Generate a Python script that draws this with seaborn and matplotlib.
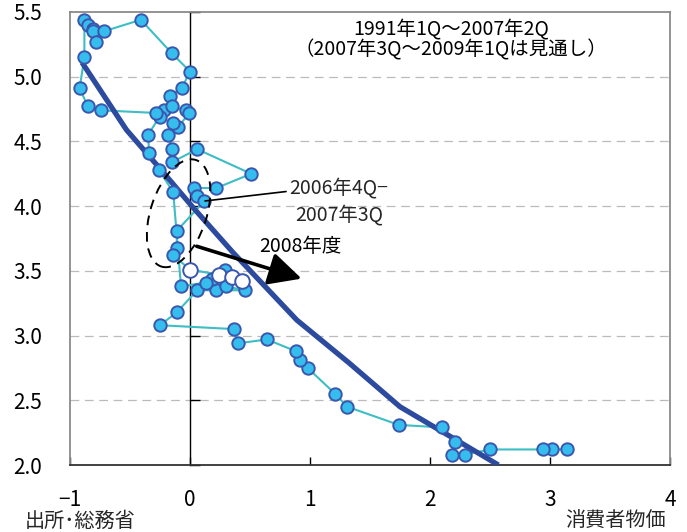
import matplotlib
matplotlib.use("Agg")
import matplotlib.pyplot as plt
import seaborn as sns
import pandas as pd
from matplotlib.patches import Ellipse
from matplotlib.transforms import ScaledTranslation

# ---------------- data ----------------
cpi_actual = [3.14, 3.02, 2.94, 2.50, 2.29, 2.18, 2.21, 2.10, 1.74, 1.31, 1.21, 0.98, 0.92,
              0.88, 0.64, 0.40, 0.37, -0.25, -0.11, 0.06, 0.22, 0.46, 0.30, 0.18, 0.29, 0.13,
              -0.075, -0.14, -0.26, -0.34, -0.35, -0.22, -0.25, -0.28, -0.74, -0.85, -0.92,
              -0.88, -0.88, -0.85, -0.81, -0.81, -0.78, -0.72, -0.41, -0.15, 0.0, -0.07, -0.17,
              -0.15, -0.036, -0.006, -0.10, -0.14, -0.18, -0.15, -0.15, 0.06, 0.51, 0.22, 0.03,
              0.06, 0.12, -0.11, -0.11, -0.14]
unemp_actual = [2.12, 2.12, 2.12, 2.12, 2.08, 2.08, 2.18, 2.29, 2.31, 2.45, 2.55, 2.75, 2.81,
                2.88, 2.97, 2.94, 3.05, 3.08, 3.18, 3.35, 3.35, 3.35, 3.38, 3.44, 3.51, 3.41,
                3.38, 4.11, 4.28, 4.41, 4.55, 4.74, 4.69, 4.72, 4.74, 4.77, 4.91,
                5.15, 5.44, 5.40, 5.37, 5.35, 5.27, 5.35, 5.44, 5.18, 5.04, 4.91, 4.85,
                4.77, 4.74, 4.72, 4.61, 4.64, 4.55, 4.44, 4.34, 4.44, 4.25, 4.14, 4.14,
                4.08, 4.04, 3.81, 3.68, 3.62]
cpi_forecast = [0.0, 0.24, 0.35, 0.43]
unemp_forecast = [3.51, 3.47, 3.45, 3.42]

fit_cpi = [-0.90, -0.53, -0.25, 0.025, 0.36, 0.89, 1.33, 1.75, 2.17, 2.57]
fit_unemp = [5.11, 4.59, 4.29, 3.99, 3.64, 3.12, 2.785, 2.45, 2.22, 2.00]

x_ticks = [-1, 0, 1, 2, 3, 4]
x_ticklabels = ["\u22121", "0", "1", "2", "3", "4"]
y_ticks = [2.0, 2.5, 3.0, 3.5, 4.0, 4.5, 5.0, 5.5]
y_ticklabels = ["2.0", "2.5", "3.0", "3.5", "4.0", "4.5", "5.0", "5.5"]

title_lines = ["1991年1Q～2007年2Q", "（2007年3Q～2009年1Qは見通し）"]
note_range = "2006年4Q−\n2007年3Q"
note_arrow = "2008年度"
source_text = "出所･総務省"
xlabel_text = "消費者物価"

# ---------------- styling ----------------
sns.set_theme(style="white")
plt.rcParams["font.family"] = ["Noto Sans CJK JP", "DejaVu Sans"]

fig = plt.figure(figsize=(6.87, 5.32), dpi=100)
ax = fig.add_axes([70 / 687, 67 / 532, 600 / 687, 453 / 532])

actual = pd.DataFrame({"cpi": cpi_actual, "unemp": unemp_actual})
forecast = pd.DataFrame({"cpi": cpi_forecast, "unemp": unemp_forecast})
fc_path = pd.concat([actual.tail(1), forecast], ignore_index=True)
fit = pd.DataFrame({"cpi": fit_cpi, "unemp": fit_unemp})

path_color = "#3DBDC4"
marker_face = "#35BDEE"
marker_edge = "#3A56AE"

# grid lines
for yv in y_ticks[1:-1]:
    ax.axhline(yv, color="#BBBBBB", lw=0.9, ls=(0, (7, 4.5)), zorder=0)

sns.lineplot(data=actual, x="cpi", y="unemp", sort=False, estimator=None,
             color=path_color, lw=1.5, ax=ax, zorder=2)
sns.lineplot(data=fc_path, x="cpi", y="unemp", sort=False, estimator=None,
             color=path_color, lw=1.5, ax=ax, zorder=2)
sns.lineplot(data=fit, x="cpi", y="unemp", sort=False, estimator=None,
             color="#2C4A9E", lw=3.8, ax=ax, zorder=3, solid_capstyle="butt",
             solid_joinstyle="round")
sns.scatterplot(data=actual, x="cpi", y="unemp", s=80, color=marker_face,
                edgecolor=marker_edge, linewidth=1.4, ax=ax, zorder=4)
sns.scatterplot(data=forecast, x="cpi", y="unemp", s=110, color="white",
                edgecolor=marker_edge, linewidth=1.4, ax=ax, zorder=5)

ax.set_xlim(-1, 4)
ax.set_ylim(2.0, 5.5)
ax.set_xlabel("")
ax.set_ylabel("")

ax.set_xticks(x_ticks)
ax.set_xticklabels(x_ticklabels, fontsize=15)
ax.set_yticks(y_ticks)
ax.set_yticklabels(y_ticklabels, fontsize=15)
ax.tick_params(axis="x", direction="in", length=6, width=1, color="black",
               pad=17, bottom=True, labelcolor="black")
ax.tick_params(axis="y", length=0, pad=20, labelcolor="black")

for side in ["left", "top", "right"]:
    ax.spines[side].set_color("#8A8A8A")
    ax.spines[side].set_linewidth(1.3)
ax.spines["bottom"].set_color("#333333")
ax.spines["bottom"].set_linewidth(1.3)

# vertical axis through x = 0 with inward ticks
sec = ax.secondary_yaxis(0.2)
sec.set_yticks(y_ticks)
sec.tick_params(direction="in", length=7, width=1, color="black", labelleft=False)
sec.spines["left"].set_color("black")
sec.spines["left"].set_linewidth(1.0)

# title text
ax.text(2.175, 5.37, title_lines[0], ha="center", va="center", fontsize=14, color="black")
ax.text(2.175, 5.21, title_lines[1], ha="center", va="center", fontsize=14, color="black")

# dashed ellipse (sized in inches around a data centre)
ell = Ellipse((0, 0), 0.56, 1.12, angle=-18, fill=False, ls=(0, (5, 3.5)), lw=1.4,
              color="black",
              transform=fig.dpi_scale_trans + ScaledTranslation(-0.095, 3.945, ax.transData),
              zorder=6)
ax.add_patch(ell)

# leader line and label for 2006Q4-2007Q3
ax.annotate(note_range, xy=(0.125, 4.04), xytext=(1.24, 4.035), ha="center", va="center",
            fontsize=14, linespacing=1.35,
            arrowprops=dict(arrowstyle="-", lw=1.2, color="black",
                            shrinkA=0, shrinkB=0, relpos=(0.0, 0.72)),
            zorder=7)

# arrow for FY2008
ax.annotate("", xy=(0.93, 3.44), xytext=(0.056, 3.69),
            arrowprops=dict(arrowstyle="-|>,head_length=1.0,head_width=0.5", lw=2.6,
                            color="black", mutation_scale=20, shrinkA=0, shrinkB=0),
            zorder=7)
ax.text(0.92, 3.685, note_arrow, ha="center", va="center", fontsize=14, color="black")

# footer texts
fig.text(25 / 687, 11 / 532, source_text, ha="left", va="center", fontsize=14.5)
fig.text(666 / 687, 11 / 532, xlabel_text, ha="right", va="center", fontsize=14.5)

fig.savefig("out.png", dpi=100)
